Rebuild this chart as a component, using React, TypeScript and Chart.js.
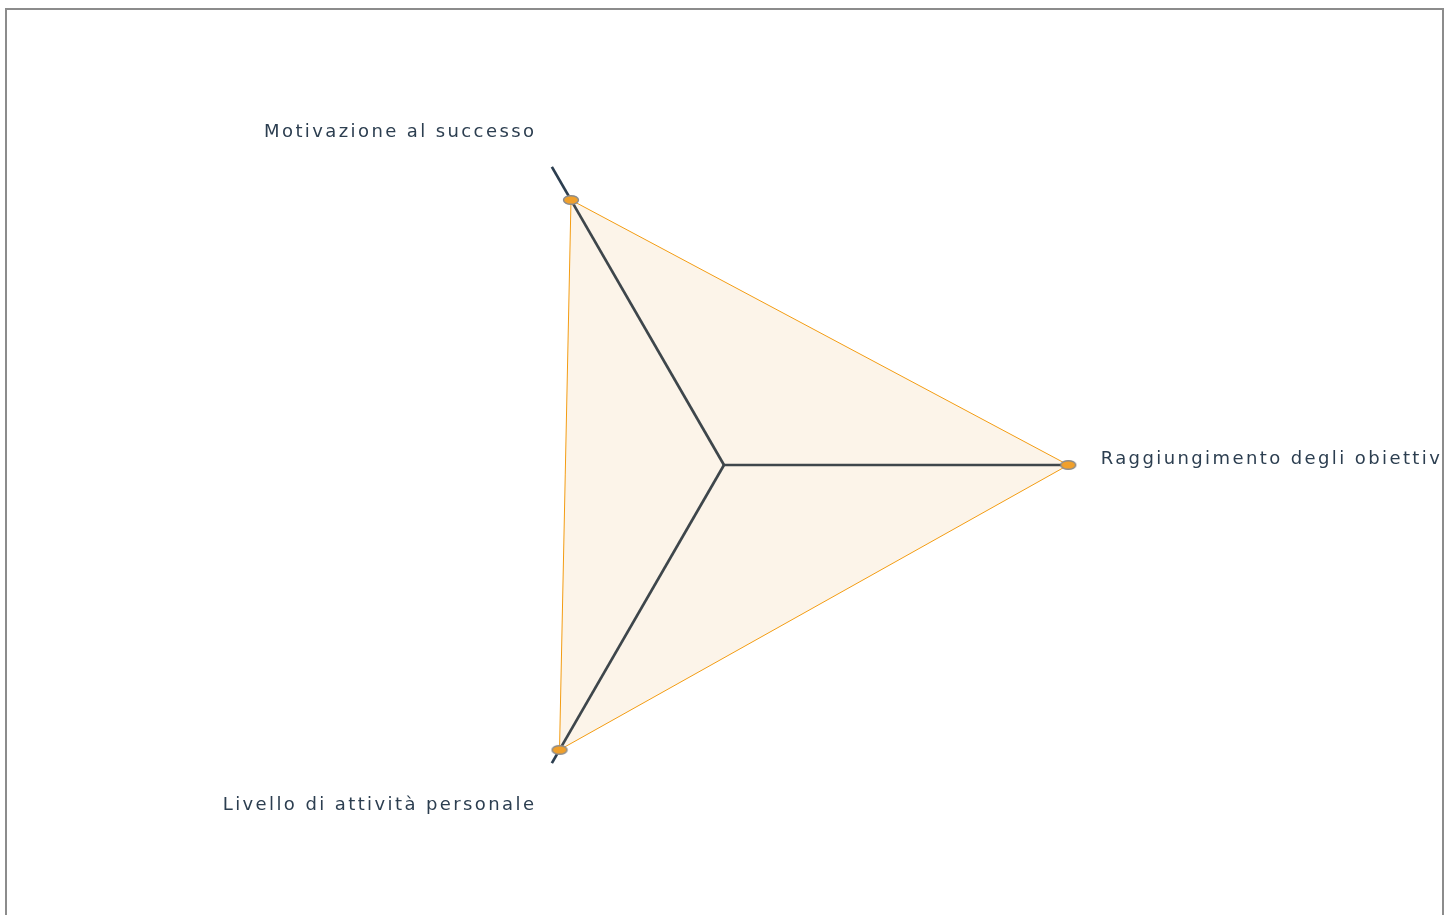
import React, { useEffect, useRef } from 'react';
import { Chart, registerables } from 'chart.js';

Chart.register(...registerables);

// ---- data ----
const categories = [
  'Motivazione al successo',
  'Raggiungimento degli obiettivi',
  'Livello di attività personale',
];
const seriesName = 'Profilo';
const seriesValues = [8, 9, 8.6];
const scaleMin = 0;
const scaleMax = 9;

// ---- layout / style constants ----
const CANVAS_W = 1600;
const CANVAS_H = 712;
const LABEL_SPACING = '2.4px';
const labelPaddings = [31, 32.4, 31];
const labelLineHeights = ['16.2px', '10.4px', '31px'];

function makeMarker(): HTMLCanvasElement {
  const c = document.createElement('canvas');
  c.width = 18;
  c.height = 12;
  const ctx = c.getContext('2d')!;
  ctx.beginPath();
  ctx.ellipse(9, 6, 7.5, 4.3, 0, 0, Math.PI * 2);
  ctx.fillStyle = '#f0a02c';
  ctx.fill();
  ctx.lineWidth = 1.4;
  ctx.strokeStyle = '#8c8c8c';
  ctx.stroke();
  return c;
}

export default function App() {
  const ref = useRef<HTMLCanvasElement>(null);

  useEffect(() => {
    document.documentElement.style.overflow = 'hidden';
    document.body.style.overflow = 'hidden';
    const canvas = ref.current!;
    const marker = makeMarker();
    const spacingPlugin = {
      id: 'labelLetterSpacing',
      beforeLayout(chart: any) {
        chart.ctx.letterSpacing = LABEL_SPACING;
      },
      beforeDraw(chart: any) {
        chart.ctx.letterSpacing = LABEL_SPACING;
      },
    };
    const chart = new Chart(canvas, {
      type: 'radar',
      data: {
        labels: categories,
        datasets: [
          {
            label: seriesName,
            data: seriesValues,
            borderColor: '#f39c12',
            borderWidth: 1,
            backgroundColor: 'rgba(225,145,35,0.1)',
            fill: true,
            pointStyle: marker as any,
            pointRadius: 7,
            pointHoverRadius: 7,
          },
        ],
      },
      options: {
        responsive: false,
        animation: false,
        plugins: {
          legend: { display: false },
          tooltip: { enabled: false },
        },
        scales: {
          r: {
            min: scaleMin,
            max: scaleMax,
            startAngle: -30,
            grid: { display: false },
            angleLines: { display: true, color: '#2c3e50', lineWidth: 2.7 },
            ticks: { display: false },
            pointLabels: {
              display: true,
              color: '#2c3e50',
              font: (ctx: any) => ({
                family: '"DejaVu Sans", sans-serif',
                size: 18,
                lineHeight: labelLineHeights[ctx.index],
              }),
              padding: (ctx: any) => labelPaddings[ctx.index],
              callback: (label: any, index: number) => (index === 1 ? [label, ''] : label),
            },
          },
        },
      } as any,
      plugins: [spacingPlugin],
    });
    return () => chart.destroy();
  }, []);

  return (
    <div
      style={{
        position: 'fixed',
        left: 5,
        top: 8,
        width: 1439,
        height: 1000,
        boxSizing: 'border-box',
        border: '2px solid #8c8c8c',
        overflow: 'hidden',
        background: '#fff',
      }}
    >
      <canvas
        ref={ref}
        width={CANVAS_W}
        height={CANVAS_H}
        style={{ position: 'absolute', left: -83, top: 105, width: CANVAS_W, height: CANVAS_H, display: 'block' }}
      />
    </div>
  );
}
